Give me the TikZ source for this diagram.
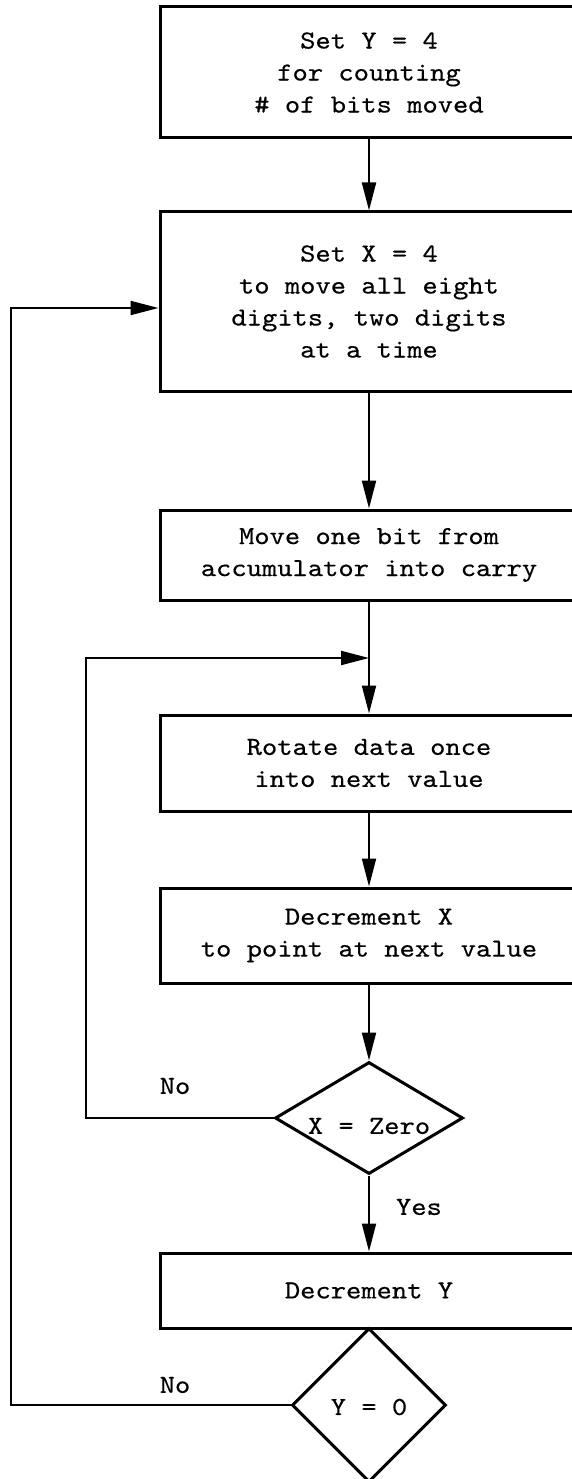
\documentclass[tikz,border=0pt]{standalone}
\usepackage{fontspec}
\usetikzlibrary{shapes.geometric,arrows.meta}
\newfontfamily\tw{lmmono10-regular}[Extension=.otf, FakeStretch=1.12, FakeBold=0.4]
\begin{document}
\begin{tikzpicture}[x=1pt,y=-1pt,
  txt/.style={font=\tw\fontsize{26}{32}\selectfont, align=center},
  stepbox/.style={draw, line width=3pt, minimum width=418pt, inner sep=0pt, txt},
  dec/.style={draw, diamond, line width=3pt, inner sep=0pt},
  conn/.style={line width=2pt},
  arr/.style={conn, -{Triangle[length=28pt,width=14pt]}},
  lab/.style={txt}]
\path[use as bounding box] (0,0) rectangle (572,1479);
\clip (0,0) rectangle (572,1479);
\fill[white] (0,0) rectangle (572,1479);
% boxes
\node[stepbox, minimum height=131pt] (b1) at (369,72.5) {Set Y = 4\\for counting\\\# of bits moved};
\node[stepbox, minimum height=179pt] (b2) at (369,301.5) {Set X = 4\\to move all eight\\digits, two digits\\at a time};
\node[stepbox, minimum height=90pt] (b3) at (369,555) {Move one bit from\\accumulator into carry};
\node[stepbox, minimum height=96pt] (b4) at (369,763) {Rotate data once\\into next value};
\node[stepbox, minimum height=95pt] (b5) at (369,935.5) {Decrement X\\to point at next value};
\node[dec, minimum width=188pt, minimum height=112pt, label={[txt, yshift=-8pt]center:X = Zero}] (d1) at (369,1118) {};
\node[stepbox, minimum height=75pt] (b6) at (369,1290.5) {Decrement Y};
\node[dec, minimum width=154pt, minimum height=154pt, label={[txt, yshift=-2pt]center:Y = 0}] (d2) at (369,1405) {};
% labels
\node[lab] (no1) at (175,1086) {No};
\node[lab] (no2) at (175,1385) {No};
\node[lab] (yes) at (419,1207) {Yes};
% main flow
\draw[arr] (b1) -- (b2);
\draw[arr] (b2) -- (b3);
\draw[arr] (b3) -- (b4);
\draw[arr] (b4) -- (b5);
\draw[arr] (b5) -- (d1);
\draw[arr] (d1) -- (b6);
% inner loop
\coordinate (i1) at (86,1118);
\coordinate (i2) at (86,658);
\coordinate (j) at (369,658);
\draw[arr] (d1.west) -- (i1) -- (i2) -- (j);
% outer loop
\coordinate (o1) at (11,1405);
\coordinate (o2) at (11,308);
\draw[arr] (d2.west) -- (o1) -- (o2) -- (o2 -| b2.west);
\end{tikzpicture}
\end{document}
